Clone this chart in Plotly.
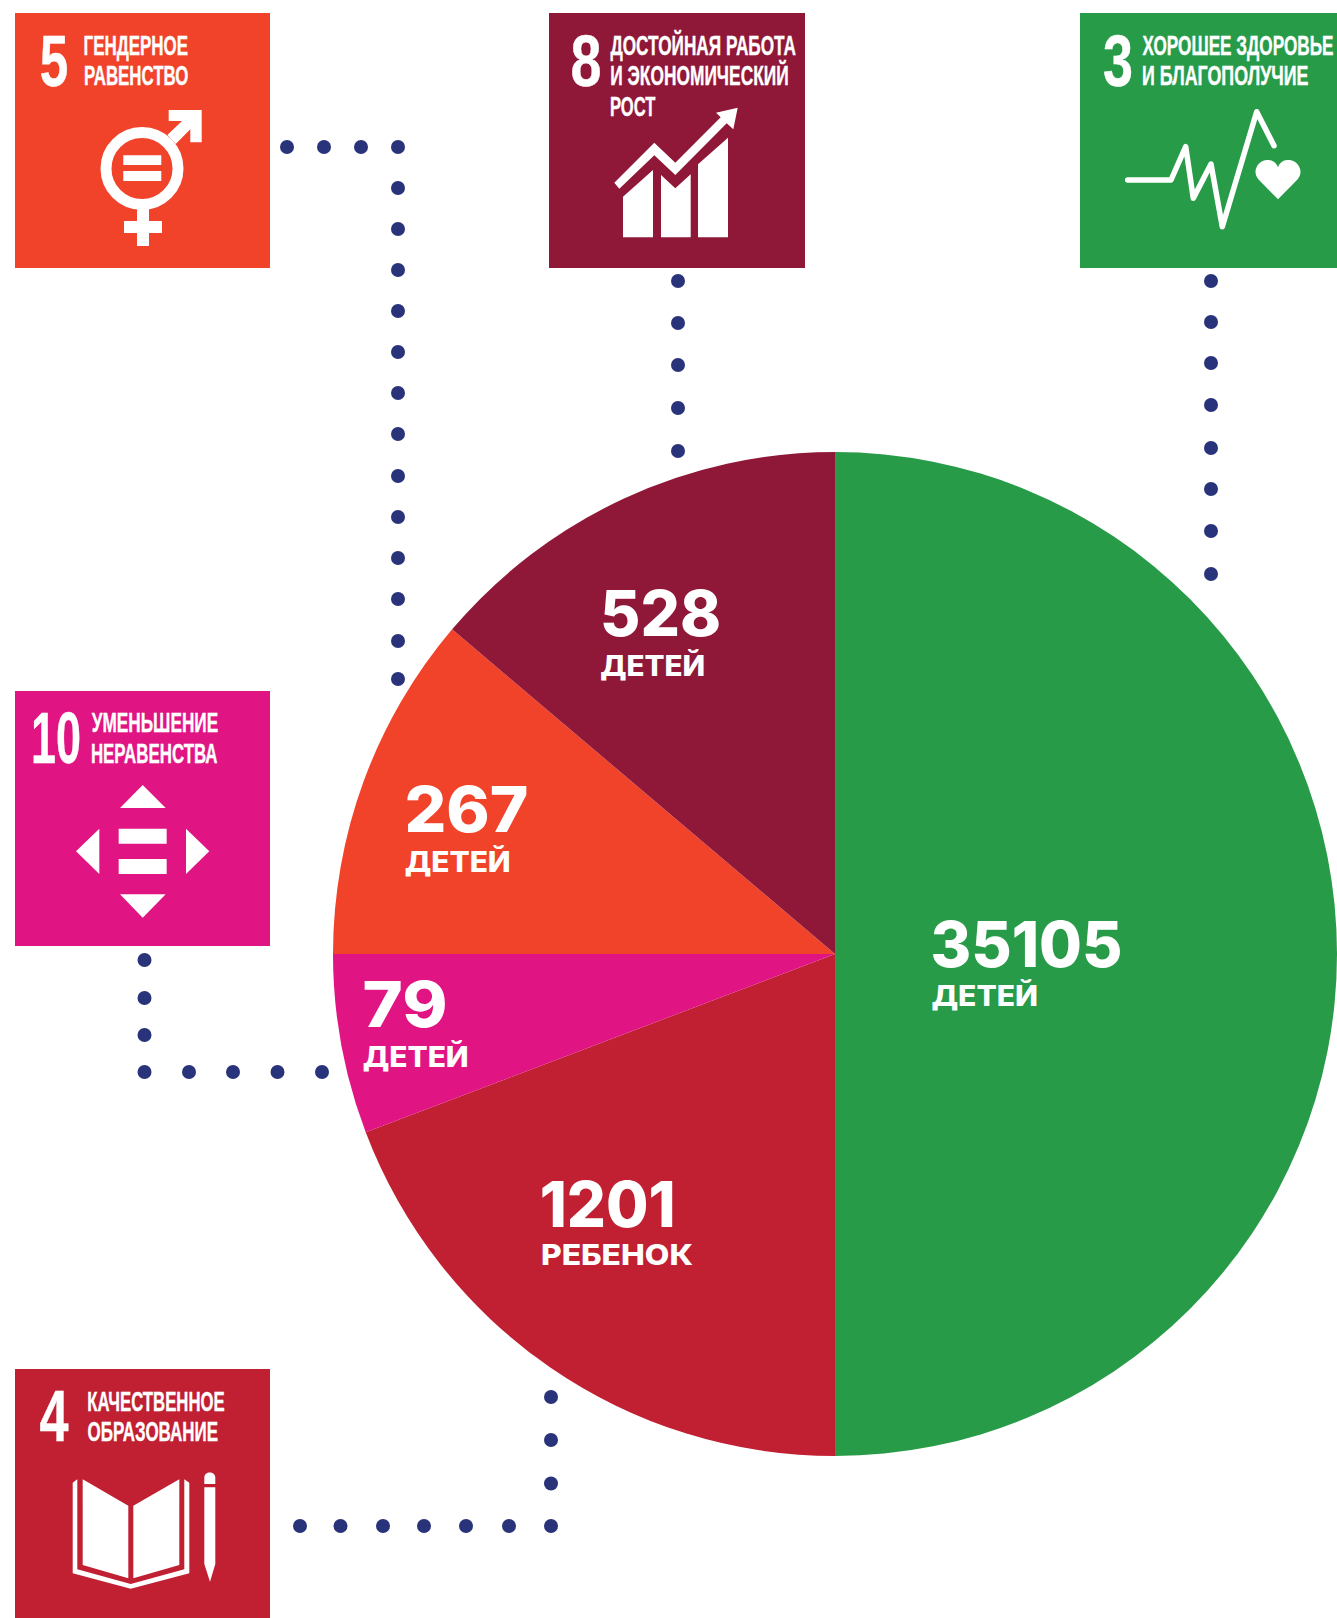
import json
import plotly.graph_objects as go

# ---- data ----
goals = ["Хорошее здоровье и благополучие", "Качественное образование",
         "Уменьшение неравенства", "Гендерное равенство",
         "Достойная работа и экономический рост"]
children = [35105, 1201, 79, 267, 528]
units = ["ДЕТЕЙ", "РЕБЕНОК", "ДЕТЕЙ", "ДЕТЕЙ", "ДЕТЕЙ"]
# the slices are not proportional to the counts: angular shares
slice_degrees = [180, 69.2, 20.8, 40.3, 49.7]
slice_colors = ["#279B48", "#C11F32", "#E01483", "#F1432A", "#8F1838"]

WHITE = "#FFFFFF"
DOT = "#28337A"

fig = go.Figure()

# connectors
conn_x = [287, 324, 361, 398, 398, 398, 398, 398, 398, 398, 398, 398, 398, 398, 398, 398, 398]
conn_y = [147, 147, 147, 147, 188, 229, 270, 311, 352, 393, 434, 476, 517, 558, 599, 641, 679]
conn_x += [678] * 5 + [1211] * 8
conn_y += [281, 323, 365, 408, 451, 281, 322, 363, 405, 448, 489, 531, 574]
conn_x += [144.5, 144.5, 144.5, 144.5, 189, 233, 277.5, 322]
conn_y += [960, 998, 1035, 1072, 1072, 1072, 1072, 1072]
conn_x += [300, 340.5, 383, 424, 466, 509, 551, 551, 551, 551]
conn_y += [1526, 1526, 1526, 1526, 1526, 1526, 1526, 1483.5, 1440, 1397]
fig.add_trace(go.Scatter(x=conn_x, y=conn_y, mode="markers", hoverinfo="skip", showlegend=False,
                         marker=dict(size=14, color=DOT, line=dict(width=0))))

fig.add_trace(go.Pie(labels=goals, values=slice_degrees, sort=False, direction="clockwise", rotation=0,
                     marker=dict(colors=slice_colors, line=dict(width=0)),
                     textinfo="none", showlegend=False,
                     customdata=children, hovertemplate="%{label}: %{customdata}<extra></extra>",
                     domain=dict(x=[333 / 1337, 1], y=[1 - 1457 / 1618, 1 - 451 / 1618])))

shapes = []
def rect(x0, y0, x1, y1, c):
    shapes.append(dict(type="rect", xref="x", yref="y", x0=x0, y0=y0, x1=x1, y1=y1,
                       fillcolor=c, line=dict(width=0), layer="below"))
def poly(points, ox, oy, c=WHITE):
    p = "M " + " L ".join(f"{ox + a / 3:.1f} {oy + b / 3:.1f}" for a, b in points) + " Z"
    shapes.append(dict(type="path", xref="x", yref="y", path=p, fillcolor=c, line=dict(width=0), layer="below"))

# tiles
rect(15, 13, 270, 268, "#F1432A")
rect(549, 13, 805, 268, "#8F1838")
rect(1080, 13, 1337, 268, "#279B48")
rect(15, 691, 270, 946, "#E01483")
rect(15, 1369, 270, 1618, "#C11F32")

# gender icon
shapes.append(dict(type="circle", xref="x", yref="y", x0=106, y0=132.5, x1=178, y1=204.5,
                   fillcolor="rgba(0,0,0,0)", line=dict(color=WHITE, width=11), layer="below"))
rect(123.3, 155.3, 161.3, 165, WHITE)
rect(123.3, 171, 161.3, 181, WHITE)
rect(137, 205, 149, 246, WHITE)
rect(124, 221, 162, 233, WHITE)
poly([(506, 330), (605, 330), (605, 427), (571, 427), (571, 388), (527, 432), (502, 405), (546, 363), (506, 363)], 0, 0)

# growth icon
poly([(279, 712), (279, 590), (369, 510), (369, 712)], 530, 0)
poly([(393, 712), (393, 525), (436, 565), (482, 523), (482, 712)], 530, 0)
poly([(504, 712), (504, 493), (594, 413), (594, 712)], 530, 0)
poly([(253, 548), (373, 428), (436, 488), (572, 352), (558, 338), (623, 323), (610, 388), (590, 370),
      (436, 525), (373, 466), (268, 566)], 530, 0)

# health icon
pl = [(203, 540), (333, 540), (377, 440), (400, 595), (453, 492), (487, 680), (590, 335), (642, 437)]
shapes.append(dict(type="path", xref="x", yref="y", layer="below", fillcolor="rgba(0,0,0,0)",
                   line=dict(color=WHITE, width=5.5),
                   path="M " + " L ".join(f"{1060 + a / 3:.1f} {b / 3:.1f}" for a, b in pl)))
hx = lambda a: f"{1060 + a / 3:.1f}"
hy = lambda b: f"{b / 3:.1f}"
heart = (f"M {hx(654)} {hy(598)} L {hx(595)} {hy(538)} C {hx(572)} {hy(510)} {hx(600)} {hy(476)} {hx(625)} {hy(480)} "
         f"C {hx(640)} {hy(480)} {hx(650)} {hy(490)} {hx(654)} {hy(502)} C {hx(658)} {hy(490)} {hx(668)} {hy(480)} {hx(683)} {hy(480)} "
         f"C {hx(708)} {hy(476)} {hx(736)} {hy(510)} {hx(713)} {hy(538)} Z")
shapes.append(dict(type="path", xref="x", yref="y", layer="below", fillcolor=WHITE, line=dict(width=0), path=heart))

# inequality icon
poly([(428, 315), (360, 384), (497, 384)], 0, 680)
rect(356 / 3, 680 + 446 / 3, 500 / 3, 680 + 491 / 3, WHITE)
rect(356 / 3, 680 + 537 / 3, 500 / 3, 680 + 582 / 3, WHITE)
poly([(228, 514), (298, 446), (298, 582)], 0, 680)
poly([(628, 514), (558, 446), (558, 582)], 0, 680)
poly([(428, 713), (360, 643), (497, 643)], 0, 680)

# book icon
poly([(248, 358), (385, 437), (385, 655), (248, 615)], 0, 1360)
poly([(400, 437), (538, 358), (538, 615), (400, 655)], 0, 1360)
poly([(218, 368), (232, 358), (232, 628), (392, 672), (553, 628), (553, 358), (568, 368), (568, 640),
      (392, 686), (218, 640)], 0, 1360)
poly([(613, 382), (646, 382), (646, 612), (630, 665), (613, 612)], 0, 1360)
shapes.append(dict(type="path", xref="x", yref="y", layer="below", fillcolor=WHITE, line=dict(width=0),
                   path=f"M {613/3:.1f} {1360+372/3:.1f} L {613/3:.1f} {1360+353/3:.1f} "
                        f"C {613/3:.1f} {1360+332/3:.1f} {646/3:.1f} {1360+332/3:.1f} {646/3:.1f} {1360+353/3:.1f} "
                        f"L {646/3:.1f} {1360+372/3:.1f} Z"))

# text: (string, left, right, vertical centre of the capitals, font size, family)
NARROW = "Liberation Sans Narrow, Liberation Sans"
WIDE = "Inter"
texts = [
    ("5", 39.5, 68, 60.5, 72, NARROW), ("ГЕНДЕРНОЕ", 83.5, 188, 45, 27.5, NARROW), ("РАВЕНСТВО", 83.5, 188, 75.5, 27.5, NARROW),
    ("8", 570.5, 601.5, 60.5, 72, NARROW), ("ДОСТОЙНАЯ РАБОТА", 610.5, 796, 45, 27.5, NARROW),
    ("И ЭКОНОМИЧЕСКИЙ", 610.5, 789, 75.5, 27.5, NARROW), ("РОСТ", 610.5, 656, 106, 27.5, NARROW),
    ("3", 1102.5, 1132.5, 60.5, 72, NARROW), ("ХОРОШЕЕ ЗДОРОВЬЕ", 1142.5, 1333.5, 45, 27.5, NARROW),
    ("И БЛАГОПОЛУЧИЕ", 1142.5, 1309, 75.5, 27.5, NARROW),
    ("10", 31, 81, 738, 72, NARROW), ("УМЕНЬШЕНИЕ", 91.5, 218, 722.5, 27.5, NARROW), ("НЕРАВЕНСТВА", 91.5, 218, 753, 27.5, NARROW),
    ("4", 39, 68, 1416, 72, NARROW), ("КАЧЕСТВЕННОЕ", 87.5, 225, 1401.5, 27.5, NARROW), ("ОБРАЗОВАНИЕ", 87.5, 218, 1431.5, 27.5, NARROW),
]
num_pos = [(930, 1122, 944), (539, 675, 1204), (362, 447, 1003.5), (404, 528, 809), (600, 721, 613)]
unit_pos = [(931, 1037.5, 996), (541, 693, 1254.5), (362, 468, 1057), (404, 510, 861.5), (600, 705, 665.5)]
for n, u, (a, b, c), (d, e, f) in zip(children, units, num_pos, unit_pos):
    texts.append((str(n), a, b, c, 63, WIDE))
    texts.append((u, d, e, f, 28, WIDE))

annotations = []
lengths = []
for s, x0, x1, ym, size, fam in texts:
    annotations.append(dict(text=s, x=(x0 + x1) / 2, y=ym, xref="x", yref="y", xanchor="center", yanchor="middle",
                            showarrow=False, font=dict(family=fam, size=size, color=WHITE,
                                                       weight=800 if fam == WIDE else 700)))
    lengths.append(round(x1 - x0, 1))

fig.update_layout(
    width=1337, height=1618, margin=dict(l=0, r=0, t=0, b=0),
    paper_bgcolor=WHITE, plot_bgcolor=WHITE, showlegend=False,
    xaxis=dict(range=[0, 1337], visible=False, fixedrange=True),
    yaxis=dict(range=[1618, 0], visible=False, fixedrange=True),
    shapes=shapes, annotations=annotations,
)

post = ("document.body.style.margin='0';document.body.style.overflow='hidden';"
        "var L=" + json.dumps(lengths) + ";"
        "document.querySelectorAll('.annotation-text').forEach(function(t,i){"
        "t.setAttribute('textLength',L[i]);t.setAttribute('lengthAdjust','spacingAndGlyphs');"
        "if(i<16){t.style.stroke='#FFFFFF';t.style.strokeWidth='0.4px';}});"
        "document.querySelectorAll('.shapelayer path').forEach(function(p){"
        "p.style.strokeLinejoin='round';p.style.strokeLinecap='round';});")
fig.write_html("out.html", config=dict(displayModeBar=False), post_script=post)
